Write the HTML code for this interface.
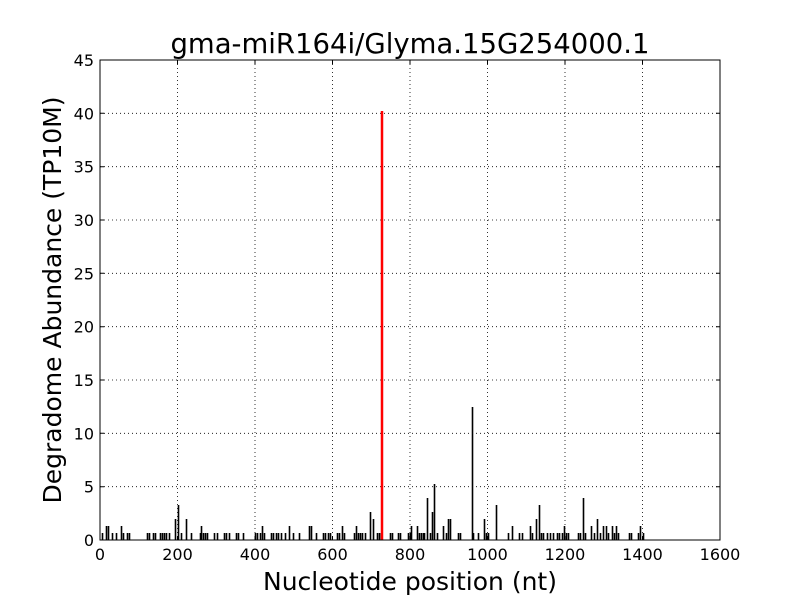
<!DOCTYPE html>
<html><head><style>body{margin:0;background:#fff}svg{display:block}text{font-family:"DejaVu Sans","Liberation Sans",sans-serif}</style></head><body>
<svg width="800" height="600" xmlns="http://www.w3.org/2000/svg">
<rect width="800" height="600" fill="#fff"/>
<g stroke="#000" stroke-width="0.8" stroke-dasharray="1,3">
<line x1="177.5" y1="60" x2="177.5" y2="540"/><line x1="255" y1="60" x2="255" y2="540"/><line x1="332.5" y1="60" x2="332.5" y2="540"/><line x1="410" y1="60" x2="410" y2="540"/><line x1="487.5" y1="60" x2="487.5" y2="540"/><line x1="565" y1="60" x2="565" y2="540"/><line x1="642.5" y1="60" x2="642.5" y2="540"/>
<line x1="100" y1="486.7" x2="720" y2="486.7"/><line x1="100" y1="433.3" x2="720" y2="433.3"/><line x1="100" y1="380" x2="720" y2="380"/><line x1="100" y1="326.7" x2="720" y2="326.7"/><line x1="100" y1="273.3" x2="720" y2="273.3"/><line x1="100" y1="220" x2="720" y2="220"/><line x1="100" y1="166.7" x2="720" y2="166.7"/><line x1="100" y1="113.3" x2="720" y2="113.3"/>
</g>
<path transform="translate(0.5,0)" stroke="#000" stroke-width="1.6" fill="none" d="M102,540V533M106,540V526M108,540V526M112,540V533M116,540V533M121,540V526M123,540V533M127,540V533M129,540V533M147,540V533M149,540V533M153,540V533M155,540V533M160,540V533M162,540V533M164,540V533M166,540V533M169,540V533M175,540V519M178,540V505M181,540V533M186,540V519M191,540V533M200,540V533M201,540V526M203,540V533M205,540V533M207,540V533M214,540V533M217,540V533M224,540V533M226,540V533M229,540V533M236,540V533M238,540V533M243,540V533M255,540V533M257,540V533M260,540V533M262,540V526M264,540V533M271,540V533M273,540V533M276,540V533M278,540V533M281,540V533M285,540V533M289,540V526M293,540V533M299,540V533M309,540V526M311,540V526M316,540V533M323,540V533M325,540V533M328,540V533M330,540V533M337,540V533M339,540V533M342,540V526M344,540V533M354,540V533M356,540V526M358,540V533M360,540V533M362,540V533M365,540V533M370,540V512M373,540V519M377,540V533M379,540V533M381,540V533M390,540V533M392,540V533M398,540V533M400,540V533M408,540V533M410,540V533M411,540V526M417,540V526M419,540V533M421,540V533M423,540V533M424,540V533M427,540V498M430,540V533M432,540V512M434,540V484M437,540V533M443,540V526M446,540V533M448,540V519M450,540V519M458,540V533M460,540V533M472,540V407M473,540V533M478,540V533M484,540V519M486,540V533M488,540V533M496,540V505M508,540V533M512,540V526M519,540V533M522,540V533M530,540V526M532,540V533M536,540V519M539,540V505M541,540V533M543,540V533M547,540V533M550,540V533M553,540V533M557,540V533M559,540V533M562,540V533M564,540V526M566,540V533M568,540V533M578,540V533M580,540V533M583,540V498M585,540V533M591,540V526M594,540V533M597,540V519M600,540V533M603,540V526M606,540V526M608,540V533M612,540V526M614,540V533M616,540V526M618,540V533M629,540V533M631,540V533M638,540V533M640,540V526M643,540V533"/>
<line x1="382" y1="540" x2="382" y2="111" stroke="#f00" stroke-width="2.5"/>
<rect x="100" y="60" width="620" height="480" fill="none" stroke="#000" stroke-width="1"/>
<g stroke="#000" stroke-width="1">
<path d="M100,540v-4M177.5,540v-4M255,540v-4M332.5,540v-4M410,540v-4M487.5,540v-4M565,540v-4M642.5,540v-4M720,540v-4M100,60v4M177.5,60v4M255,60v4M332.5,60v4M410,60v4M487.5,60v4M565,60v4M642.5,60v4M720,60v4"/>
<path d="M100,486.7h4M100,433.3h4M100,380h4M100,326.7h4M100,273.3h4M100,220h4M100,166.7h4M100,113.3h4M100,60h4M720,486.7h-4M720,433.3h-4M720,380h-4M720,326.7h-4M720,273.3h-4M720,220h-4M720,166.7h-4M720,113.3h-4M720,60h-4"/>
</g>
<g font-size="16" text-anchor="middle">
<text x="100" y="560">0</text><text x="177.5" y="560">200</text><text x="255" y="560">400</text><text x="332.5" y="560">600</text><text x="410" y="560">800</text><text x="487.5" y="560">1000</text><text x="565" y="560">1200</text><text x="642.5" y="560">1400</text><text x="720" y="560">1600</text>
</g>
<g font-size="16" text-anchor="end">
<text x="94" y="546">0</text><text x="94" y="492.7">5</text><text x="94" y="439.3">10</text><text x="94" y="386">15</text><text x="94" y="332.7">20</text><text x="94" y="279.3">25</text><text x="94" y="226">30</text><text x="94" y="172.7">35</text><text x="94" y="119.3">40</text><text x="94" y="66">45</text>
</g>
<text x="410" y="53" font-size="27.5" text-anchor="middle">gma-miR164i/Glyma.15G254000.1</text>
<text x="410" y="590" font-size="25" text-anchor="middle">Nucleotide position (nt)</text>
<text transform="translate(61,300) rotate(-90)" font-size="25" text-anchor="middle">Degradome Abundance (TP10M)</text>
</svg>
</body></html>
